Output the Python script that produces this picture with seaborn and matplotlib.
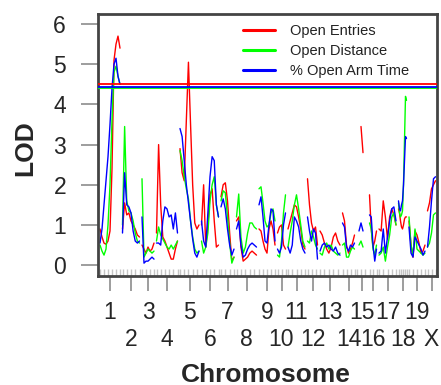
import numpy as np
import pandas as pd
import matplotlib
matplotlib.use("Agg")
import matplotlib.pyplot as plt
from matplotlib.lines import Line2D
from matplotlib.ticker import FixedLocator, FixedFormatter
import seaborn as sns

nan = np.nan

chromosomes = ['1', '2', '3', '4', '5', '6', '7', '8', '9', '10',
               '11', '12', '13', '14', '15', '16', '17', '18', '19', 'X']
chrom_lengths_cM = [100, 85, 60, 105, 95, 85, 65, 100, 80, 40,
                    85, 50, 100, 60, 50, 35, 85, 40, 80, 40]
gap_cM = 12.5

series_names = ['Open Entries', 'Open Distance', '% Open Arm Time']
series_colors = ['#ff0000', '#00ff00', '#0000ff']
thresholds = [4.50, 4.40, 4.44]

lod_open_entries = [
    [0.9, 0.7, 0.55, 0.52, 0.6, 0.85, 2.4, 5.1, 5.5, 5.7, 5.4],
    [0.9, 1.55, 1.25, 1.3, 1.1, 1.0, 0.9, 0.75, 0.7],
    [0.5, 0.4, 0.3, 0.45, 0.35, 0.4, 0.55],
    [0.8, 3.0, 1.5, 0.7, 0.6, 0.45, 0.3, 0.15, 0.15, 0.4, 0.6],
    [2.9, 2.3, 2.1, 3.6, 5.05, 3.5, 2.0, 1.05, 0.9, 1.0],
    [1.0, 2.0, 0.45, 1.0, 1.75, 1.9, 1.1, 0.45, 0.5],
    [1.7, 2.0, 2.05, 1.6, 0.8, 0.1, 0.2],
    [1.1, 1.2, 0.45, 0.1, 0.15, 0.2, 0.3, 0.35, 0.3, 0.25],
    [0.9, 0.85, 0.6, 0.4, 0.3, 0.9, 1.1, 0.9, 0.5],
    [0.8, 0.95, 1.0, 0.5, 0.4],
    [0.9, 1.1, 1.3, 1.5, 1.45, 1.2, 0.9, 0.5, 0.4],
    [2.15, 1.5, 1.05, 0.85, 0.95, 0.5],
    [0.85, 0.75, 0.55, 0.4, 0.3, 0.45, 0.7, 0.8, 0.6, 0.5],
    [1.3, 1.1, 0.5, 0.3, 0.4, 0.55, 0.75],
    [nan, nan, 3.45, 2.8, nan, nan],
    [1.75, 0.9, 0.45, 0.6, 0.85],
    [0.9, 0.85, 1.6, 1.2, 0.65, 1.2, 1.4, 1.25, 1.0],
    [1.4, 1.3, 1.1, 0.95, 0.9, 1.0, 1.15, 1.2, 1.2],
    [1.1, 0.5, 0.2, 0.85, 0.75, 0.55, 0.3, 0.35, 0.5],
    [1.35, 1.55, 1.9, 2.0, 2.1],
]

lod_open_distance = [
    [0.5, 0.35, 0.25, 0.4, 1.0, 2.0, 3.6, 4.8, 4.95, 4.7, 4.5],
    [1.0, 3.45, 1.6, 1.35, 1.3, 1.1, 0.8, 0.6, 0.55],
    [2.15, 0.2, 0.3, 0.4, 0.35, 0.3, 0.35],
    [0.6, 0.95, 0.75, 0.65, 0.55, 0.45, 0.4, 0.5, 0.4, 0.5, 0.6],
    [2.85, 2.6, 2.2, 1.9, 1.65, 1.1, 0.7, 0.4, 0.3, 0.35],
    [0.6, 0.3, 0.45, 0.8, 1.6, 2.0, 2.2, 1.5, 1.2],
    [1.6, 1.85, 1.8, 1.2, 0.55, 0.05, 0.2],
    [1.2, 1.77, 0.7, 0.3, 0.45, 0.8, 1.05, 1.05, 0.95, 0.9],
    [1.9, 1.95, 1.55, 1.1, 0.95, 1.0, 1.3, 1.4, 1.1],
    [0.25, 0.2, 0.6, 1.3, 1.75],
    [0.45, 0.8, 1.1, 1.5, 1.75, 1.4, 1.0, 0.6, 0.45],
    [0.6, 0.55, 0.85, 0.7, 0.5, 0.4],
    [0.3, 0.25, 0.45, 0.55, 0.4, 0.5, 0.35, 0.3, 0.25, 0.3],
    [0.5, 0.55, 0.2, 0.2, 0.35, 0.45, 0.4],
    [nan, 0.5, 0.6, 0.45, nan, nan],
    [1.05, 0.9, 0.4, 0.25, 0.5],
    [0.25, 0.3, 0.45, 0.1, 0.45, 0.75, 1.2, 1.3, 1.0],
    [1.55, 1.3, 1.2, 1.25, 1.35, 2.0, 3.1, 4.2, 4.1],
    [1.2, 0.5, 0.25, 0.9, 0.4, 0.35, 0.3, 0.25, 0.3],
    [0.45, 0.55, 0.8, 1.25, 1.3],
]

lod_pct_open_arm_time = [
    [0.55, 0.9, 1.5, 2.1, 2.7, 3.5, 4.4, 5.0, 5.15, 4.7, 4.5],
    [0.8, 2.3, 1.5, 1.45, 1.3, 0.85, 0.6, 0.55, 0.6],
    [1.2, 0.05, 0.1, 0.1, 0.15, 0.2, 0.15],
    [0.55, 0.55, 0.5, 1.1, 1.45, 1.4, 1.2, 1.25, 0.9, 1.3, 0.8],
    [3.4, 3.2, 2.6, 2.0, 1.55, 1.1, 0.65, 0.3, 0.2, 0.35],
    [1.1, 0.6, 0.45, 1.3, 2.2, 2.7, 2.6, 1.5, 1.2],
    [1.45, 1.65, 1.4, 0.9, 0.5, 0.25, 0.4],
    [0.9, 1.1, 0.5, 0.2, 0.25, 0.4, 0.5, 0.55, 0.5, 0.45],
    [1.5, 1.7, 1.2, 0.6, 0.55, 1.0, 1.4, 1.35, 0.6],
    [0.4, 0.3, 0.45, 1.0, 1.3],
    [0.45, 0.3, 0.5, 1.2, 1.1, 0.95, 0.6, 0.4, 0.3],
    [1.2, 0.85, 0.6, 0.9, 0.8, 0.15],
    [0.35, 0.5, 0.55, 0.45, 0.5, 0.4, 0.35, 0.45, 0.3, 0.25],
    [1.05, 0.95, 0.45, 0.35, 0.5, 0.45, 0.55],
    [nan, 0.85, 1.05, 0.85, nan, nan],
    [1.25, 1.2, 0.5, 0.1, 0.4],
    [0.3, 0.35, 0.9, 0.3, 0.7, 1.1, 1.4, 1.45, 1.1],
    [1.6, 1.4, 1.35, 1.5, 1.6, 2.0, 2.6, 3.2, 3.15],
    [0.95, 0.3, 0.2, 0.7, 0.6, 0.5, 0.4, 0.25, 0.35],
    [0.45, 0.95, 1.6, 2.15, 2.2],
]

y_ticks = [0, 1, 2, 3, 4, 5, 6]

# ---- build long-form table ----
starts = []
pos = 0.0
for L in chrom_lengths_cM:
    starts.append(pos)
    pos += L + gap_cM
mids = [s + L / 2 for s, L in zip(starts, chrom_lengths_cM)]

rows = []
rug_positions = []
all_series = [lod_open_entries, lod_open_distance, lod_pct_open_arm_time]
for name, series in zip(series_names, all_series):
    for ci, vals in enumerate(series):
        xs = starts[ci] + np.linspace(0, chrom_lengths_cM[ci], len(vals))
        if name == series_names[0]:
            rug_positions.extend(list(xs[::2]))
        seg = 0
        for x, v in zip(xs, vals):
            if np.isnan(v):
                seg += 1
                continue
            rows.append(dict(series=name, pos=x, lod=v,
                             unit=f"{name}|{ci}|{seg}"))
df = pd.DataFrame(rows)

sns.set_theme(style="white")
plt.rcParams['font.family'] = ['Liberation Sans', 'DejaVu Sans']

W, H = 441, 385
fig = plt.figure(figsize=(W / 100, H / 100), dpi=100)
ax = fig.add_axes([98 / W, 1 - 276 / H, (437 - 98) / W, (276 - 14) / H])

palette = dict(zip(series_names, series_colors))
sns.lineplot(data=df, x='pos', y='lod', hue='series', units='unit',
             estimator=None, sort=False, palette=palette,
             hue_order=series_names, lw=1.0, legend=False, ax=ax)

for t, c in zip(thresholds, series_colors):
    ax.axhline(t, color=c, lw=1.3, zorder=3)

sns.rugplot(x=rug_positions, height=0.027, color='#c4c4c4', lw=1.0, ax=ax)

ax.set_xlim(-10, 1685)
ax.set_ylim(-0.27, 6.25)
ax.set_xlabel('')
ax.set_ylabel('')

ax.set_yticks(y_ticks)
ax.set_yticklabels([str(v) for v in y_ticks], fontsize=16.5)

# odd chromosomes on the first row (major ticks), even ones on the second (minor)
odd_pos = mids[0::2]
even_pos = mids[1::2]
ax.xaxis.set_major_locator(FixedLocator(odd_pos))
ax.xaxis.set_major_formatter(FixedFormatter(chromosomes[0::2]))
ax.xaxis.set_minor_locator(FixedLocator(even_pos))
ax.xaxis.set_minor_formatter(FixedFormatter(chromosomes[1::2]))
ax.tick_params(axis='x', which='both', direction='out', length=11, width=1.2,
               color='#8c8c8c', labelsize=16.5, bottom=True)
ax.tick_params(axis='x', which='major', pad=7)
ax.tick_params(axis='x', which='minor', pad=26.5)
ax.tick_params(axis='y', direction='out', length=12, width=1.2, color='#8c8c8c',
               pad=11, left=True)

for side in ['left', 'top', 'bottom', 'right']:
    ax.spines[side].set_color('#444444')
    ax.spines[side].set_linewidth(2.0)
    ax.spines[side].set_visible(True)

fig.text(266 / W, 1 - 381.5 / H, 'Chromosome', fontsize=19, fontweight='bold',
         ha='center', va='baseline')
fig.text(32 / W, 1 - 148 / H, 'LOD', fontsize=19, fontweight='bold',
         rotation=90, rotation_mode='anchor', ha='center', va='baseline')

handles = [Line2D([0], [0], color=c, lw=2.2) for c in series_colors]
leg = fig.legend(handles, series_names, loc='upper left',
                 bbox_to_anchor=(243 / W, 1 - 24 / H), frameon=False,
                 fontsize=10.5, handlelength=2.2, handletextpad=1.0,
                 labelspacing=0.42, borderpad=0, borderaxespad=0)
for txt in leg.get_texts():
    txt.set_color('#222222')

fig.savefig('out.png', dpi=100)
